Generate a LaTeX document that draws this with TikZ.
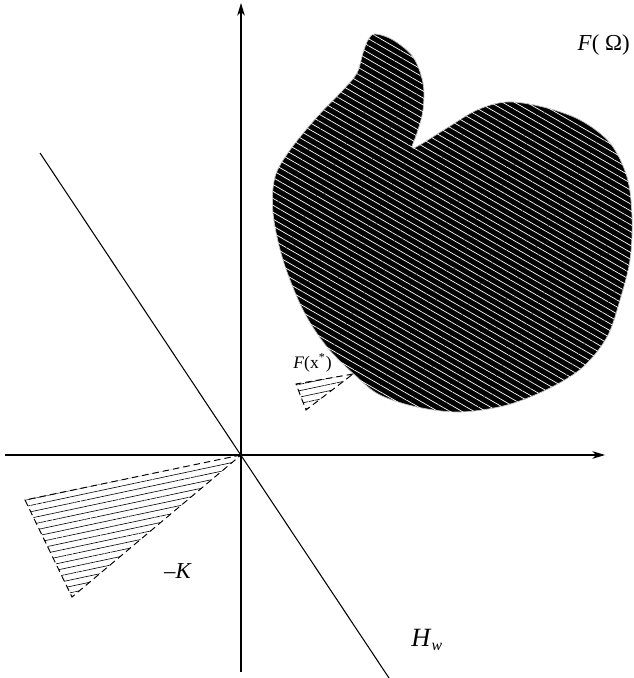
\documentclass[tikz,border=0pt]{standalone}
\usepackage{fontspec}
\setmainfont{Liberation Serif}
\usetikzlibrary{arrows.meta,patterns.meta}

\begin{document}
\begin{tikzpicture}[x=0.02cm, y=-0.02cm, axis/.style={line width=0.6pt, -{Stealth[length=0.25cm, width=0.15cm, inset=0.07cm]}}, cone/.style={dash pattern=on 0.13cm off 0.08cm, line width=0.55pt, pattern={Lines[angle=12, distance=0.125cm, line width=0.35pt]}}]
        \useasboundingbox (0,0) rectangle (633,678);

        \coordinate (origin) at (241,455);
        \coordinate (x-start) at (5,455);
        \coordinate (x-end) at (605,455);
        \coordinate (y-start) at (241,672);
        \coordinate (y-end) at (241,3);
        \coordinate (hw-start) at (40,153);
        \coordinate (hw-end) at (389,678);

        \coordinate (k-top) at (25,500);
        \coordinate (k-bot) at (72,597);

        \coordinate (fx) at (353,374);
        \coordinate (fx-top) at (296,384);
        \coordinate (fx-bot) at (306,410);

        \path[fill=black, draw=gray!50, line width=0.4pt, postaction={pattern={Lines[angle=-30, distance=0.12cm, line width=0.4pt]}, pattern color=white}] plot[smooth cycle, tension=0.55] coordinates {(375,34) (393,40) (413,57) (423,83) (423,110) (417,133) (412,147) (418,146) (447,128) (477,110) (507,102) (543,107) (580,120) (610,143) (627,177) (632,217) (630,260) (620,300) (607,337) (583,367) (550,388) (507,405) (460,412) (417,407) (380,395) (357,377) (327,347) (303,310) (283,260) (273,213) (275,177) (290,150) (317,117) (343,90) (357,73) (363,53) (368,40)};

        \draw[cone] (origin) -- (k-top) -- (k-bot) -- cycle;

        \draw[cone] (fx) -- (fx-top) -- (fx-bot) -- cycle;

        \draw[axis] (x-start) -- (x-end);

        \draw[axis] (y-start) -- (y-end);

        \draw[line width=0.6pt] (hw-start) -- (hw-end);

        \draw (630,45) node[anchor=east, inner sep=0, font=\fontsize{13}{15}\selectfont] (f-omega) {\textit{F}( Ω)};

        \draw (178,571) node[inner sep=0, font=\fontsize{13}{15}\selectfont] (minus-k) {–\textit{K}};

        \draw (411,640) node[anchor=west, inner sep=0, font=\fontsize{15}{17}\selectfont] (h-w) {\textit{H}\raisebox{-0.35ex}{\fontsize{9}{10}\selectfont\textit{w}}};

        \draw (293,363) node[anchor=west, inner sep=0, font=\fontsize{10}{12}\selectfont] (f-xstar) {\textit{F}(x\textsuperscript{*})};
      \end{tikzpicture}
\end{document}
